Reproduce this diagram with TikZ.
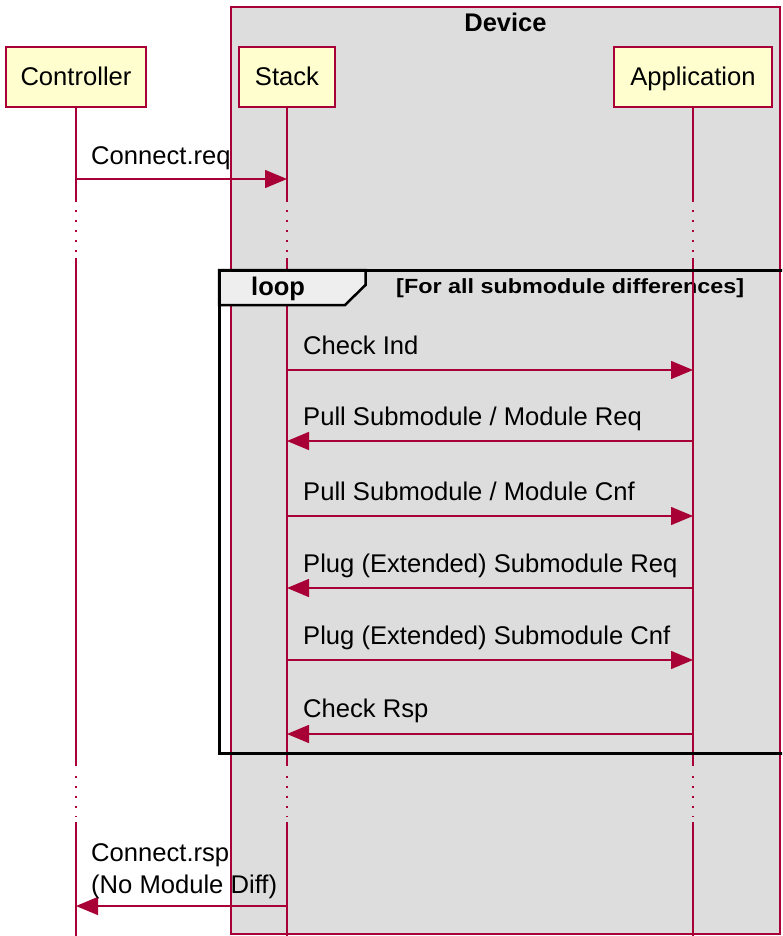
\documentclass[tikz,border=0pt]{standalone}
\usepackage{fontspec}
\setmainfont{Liberation Sans}
\usetikzlibrary{arrows.meta}

\definecolor{umlred}{HTML}{A80036}
\definecolor{partfill}{HTML}{FEFECE}
\definecolor{groupfill}{HTML}{DDDDDD}
\definecolor{tabfill}{HTML}{EEEEEE}

\newcommand\seqtext{\fontsize{25.6}{30}\selectfont}
\newcommand\seqbold{\fontsize{25.5}{30}\selectfont\bfseries}
\newcommand\condbold{\fontsize{20.5}{24}\selectfont\bfseries}

\begin{document}
\begin{tikzpicture}[x=1pt,y=-1pt,
  participant/.style={draw=umlred, line width=1.8pt, fill=partfill,
    minimum height=60.6pt, inner sep=0pt, text height=17.5pt, text depth=0pt,
    font=\seqtext},
  lifeline/.style={draw=umlred, line width=1.6pt},
  lifegap/.style={draw=umlred, line width=1.8pt, dash pattern=on 2pt off 8pt},
  groupbox/.style={draw=umlred, line width=1.8pt, fill=groupfill},
  msg/.style={draw=umlred, line width=1.5pt, -{Triangle[length=22pt,width=18pt]}},
  lbl/.style={inner sep=0pt, anchor=base west, font=\seqtext},
  frameline/.style={draw=black, line width=3pt},
  tabshape/.style={draw=black, line width=2.5pt, fill=tabfill, line join=miter},
]
\useasboundingbox (0,0) rectangle (782,936);
\begin{scope}
\clip (0,0) rectangle (782,936);

% Device group box
\draw[groupbox] (231,7) rectangle (780,934);
\node[inner sep=0pt, anchor=base, font=\seqbold] (devtitle) at (505.5,31.7) {Device};

% Participants
\node[participant, minimum width=139.7pt] (ctrl) at (76,77) {Controller};
\node[participant, minimum width=96.6pt] (stack) at (287,77) {Stack};
\node[participant, minimum width=157.3pt] (app) at (693,77) {Application};

% Loop condition (lies beneath the lifelines)
\node[inner sep=0pt, anchor=base west, font=\condbold, xscale=1.14] (cond) at (396,293)
  {[For all submodule differences]};

% Lifelines with their two elided stretches
\foreach \p in {ctrl,stack,app}{
  \draw[lifeline] (\p.south) -- (\p |- 0,201.5);
  \draw[lifegap] (\p |- 0,210) -- (\p |- 0,252);
  \draw[lifeline] (\p |- 0,258) -- (\p |- 0,766);
  \draw[lifegap] (\p |- 0,775.5) -- (\p |- 0,817);
  \draw[lifeline] (\p |- 0,822) -- (\p |- 0,940);
}

% Loop fragment
\draw[tabshape] (219,270) -- (365.5,270) -- (365.5,285) -- (345,305) -- (219,305) -- cycle;
\node[inner sep=0pt, anchor=base west, font=\seqbold] (looplbl) at (251,295.7) {loop};
\draw[frameline] (219,270) rectangle (800,753);

% Messages
\draw[msg] (ctrl |- 0,179) -- (stack |- 0,179);
\node[lbl] (m1) at (91,165) {Connect.req};

\draw[msg] (stack |- 0,370) -- (app |- 0,370);
\node[lbl] (m2) at (303,354) {Check Ind};

\draw[msg] (app |- 0,441) -- (stack |- 0,441);
\node[lbl] (m3) at (303,425.5) {Pull Submodule / Module Req};

\draw[msg] (stack |- 0,516) -- (app |- 0,516);
\node[lbl] (m4) at (303,500) {Pull Submodule / Module Cnf};

\draw[msg] (app |- 0,588) -- (stack |- 0,588);
\node[lbl] (m5) at (303,572) {Plug (Extended) Submodule Req};

\draw[msg] (stack |- 0,660) -- (app |- 0,660);
\node[lbl] (m6) at (303,644) {Plug (Extended) Submodule Cnf};

\draw[msg] (app |- 0,734) -- (stack |- 0,734);
\node[lbl] (m7) at (303,717.5) {Check Rsp};

\draw[msg] (stack |- 0,906) -- (ctrl |- 0,906);
\node[lbl] (m8a) at (91,861) {Connect.rsp};
\node[lbl] (m8b) at (91,893) {(No Module Diff)};
\end{scope}
\end{tikzpicture}
\end{document}
